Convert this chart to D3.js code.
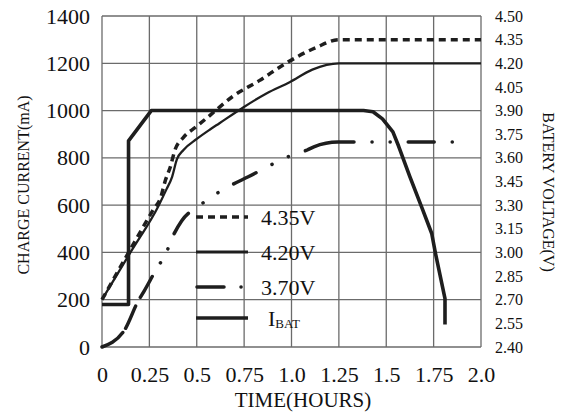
<!DOCTYPE html>
<html>
<head>
<meta charset="utf-8">
<script src="https://cdn.jsdelivr.net/npm/d3@7"></script>
<style>
  html, body { margin: 0; padding: 0; background: #fff; }
  svg, svg text { font-family: "Liberation Serif", "Times New Roman", serif !important; }
  svg { display: block; }
</style>
</head>
<body>
<svg id="chart" width="571" height="416"></svg>
<script>
// ---- data ----
const timeTicks = [0, 0.25, 0.5, 0.75, 1.0, 1.25, 1.5, 1.75, 2.0];
const timeTickLabels = ["0", "0.25", "0.5", "0.75", "1.0", "1.25", "1.5", "1.75", "2.0"];
const currentTicks = [0, 200, 400, 600, 800, 1000, 1200, 1400];
const voltageTicks = [2.40, 2.55, 2.70, 2.85, 3.00, 3.15, 3.30, 3.45, 3.60, 3.75, 3.90, 4.05, 4.20, 4.35, 4.50];

// 4.35V battery voltage (V) vs time (h)
const t435 = [0, 0.15, 0.27, 0.31, 0.335, 0.36, 0.385, 0.43, 0.5, 0.57, 0.69, 0.83, 0.97, 1.13, 1.25, 2.0];
const v435 = [2.70, 3.02, 3.27, 3.35, 3.46, 3.54, 3.65, 3.73, 3.80, 3.87, 3.99, 4.09, 4.20, 4.30, 4.35, 4.35];

// 4.20V battery voltage (V)
const t420 = [0, 0.15, 0.30, 0.34, 0.37, 0.395, 0.43, 0.50, 0.57, 0.62, 0.745, 0.87, 0.99, 1.11, 1.25, 2.0];
const v420 = [2.70, 3.00, 3.30, 3.40, 3.48, 3.59, 3.65, 3.72, 3.78, 3.82, 3.92, 4.01, 4.08, 4.16, 4.20, 4.20];

// 3.70V battery voltage (V)
const t370 = [0, 0.12, 0.19, 0.22, 0.29, 0.336, 0.373, 0.42, 0.517, 0.60, 0.687, 0.772, 0.90, 0.988, 1.083, 1.118, 1.245, 1.5, 1.93];
const v370 = [2.40, 2.51, 2.69, 2.75, 2.90, 2.99, 3.10, 3.20, 3.30, 3.37, 3.43, 3.48, 3.56, 3.61, 3.65, 3.67, 3.70, 3.70, 3.70];

// Charge current IBAT (mA)
const tBat = [0, 0.14, 0.14, 0.26, 1.38, 1.43, 1.48, 1.535, 1.565, 1.625, 1.69, 1.74, 1.76, 1.81, 1.81];
const iBat = [180, 180, 872, 1000, 1000, 995, 965, 910, 850, 720, 585, 480, 395, 205, 95];

const legendLabels = ["4.35V", "4.20V", "3.70V", "I"];

// ---- layout ----
const svg = d3.select("#chart");
const m = { left: 102, top: 16, right: 90, bottom: 69 };
const W = 571 - m.left - m.right;   // 379
const H = 416 - m.top - m.bottom;   // 331
const g = svg.append("g").attr("transform", `translate(${m.left},${m.top})`);

const x = d3.scaleLinear().domain([0, 2]).range([0, W]);
const yI = d3.scaleLinear().domain([0, 1400]).range([H, 0]);
const yV = d3.scaleLinear().domain([2.4, 4.5]).range([H, 0]);

const gridColor = "#6b6b6b";
const ink = "#1e1e1e";
const serif = "Liberation Serif";

// grid
g.append("g").selectAll("line").data(timeTicks).join("line")
  .attr("x1", d => x(d)).attr("x2", d => x(d)).attr("y1", 0).attr("y2", H)
  .attr("stroke", gridColor).attr("stroke-width", 1.3);
g.append("g").selectAll("line").data(currentTicks).join("line")
  .attr("y1", d => yI(d)).attr("y2", d => yI(d)).attr("x1", 0).attr("x2", W)
  .attr("stroke", gridColor).attr("stroke-width", 1.3);

// axes
const axL = g.append("g").call(d3.axisLeft(yI).tickValues(currentTicks).tickSize(0).tickPadding(12).tickFormat(d3.format("d")));
axL.attr("font-family", serif);
axL.select(".domain").remove();
axL.selectAll("text").attr("font-size", 22).attr("fill", "#111");

const axB = g.append("g").attr("transform", `translate(0,${H})`)
  .call(d3.axisBottom(x).tickValues(timeTicks).tickSize(0).tickPadding(19).tickFormat((d, i) => timeTickLabels[i]));
axB.attr("font-family", serif);
axB.select(".domain").remove();
axB.selectAll("text").attr("font-size", 22).attr("fill", "#111");

const axR = g.append("g").attr("transform", `translate(${W},0)`)
  .call(d3.axisRight(yV).tickValues(voltageTicks).tickSize(0).tickPadding(14).tickFormat(d3.format(".2f")));
axR.attr("font-family", serif);
axR.select(".domain").remove();
axR.selectAll("text").attr("font-size", 16).attr("fill", "#111");

// axis titles
svg.append("text").attr("transform", "translate(29,185) rotate(-90)")
  .attr("text-anchor", "middle").attr("font-size", 16).attr("fill", "#111").text("CHARGE CURRENT(mA)");
svg.append("text").attr("transform", "translate(543,192) rotate(90)")
  .attr("text-anchor", "middle").attr("font-size", 16).attr("fill", "#111").text("BATERY VOLTAGE(V)");
svg.append("text").attr("x", 303).attr("y", 407)
  .attr("text-anchor", "middle").attr("font-size", 21).attr("fill", "#111").text("TIME(HOURS)");

// lines
const lineV = d3.line().x(d => x(d[0])).y(d => yV(d[1])).curve(d3.curveMonotoneX);
const lineI = d3.line().x(d => x(d[0])).y(d => yI(d[1])).curve(d3.curveLinear);

g.append("path").datum(d3.zip(t370, v370)).attr("d", lineV)
  .attr("fill", "none").attr("stroke", ink).attr("stroke-width", 3.5)
  .attr("stroke-linecap", "round")
  .attr("stroke-dasharray", "26,5,24,10,24,16,0.1,16,0.1,16,25,18,0.1,18,0.1,18,25,18,0.1,18,0.1,18,50,18,0.1,18,0.1,18,26,18,0.1,18,0.1,18");

g.append("path").datum(d3.zip(t420, v420)).attr("d", lineV)
  .attr("fill", "none").attr("stroke", ink).attr("stroke-width", 2.3);

g.append("path").datum(d3.zip(t435, v435)).attr("d", lineV)
  .attr("fill", "none").attr("stroke", ink).attr("stroke-width", 3.5)
  .attr("stroke-dasharray", "7,5");

g.append("path").datum(d3.zip(tBat, iBat)).attr("d", lineI)
  .attr("fill", "none").attr("stroke", ink).attr("stroke-width", 3.6)
  .attr("stroke-linejoin", "round");

// legend
const legY = [217, 252, 287, 318];
const leg = svg.append("g").attr("font-family", serif);
const styles = [
  { w: 3.5, dash: "7,5", cap: "butt" },
  { w: 3.2, dash: null, cap: "butt" },
  { w: 3.5, dash: "27,17,0.1,20", cap: "round" },
  { w: 3.6, dash: null, cap: "butt" }
];
legendLabels.forEach((lab, i) => {
  const s = styles[i];
  leg.append("line").attr("x1", i === 2 ? 197 : 196).attr("x2", i === 2 ? 243 : 248)
    .attr("y1", legY[i]).attr("y2", legY[i])
    .attr("stroke", ink).attr("stroke-width", s.w)
    .attr("stroke-linecap", s.cap)
    .attr("stroke-dasharray", s.dash);
  const tx = leg.append("text").attr("x", i === 3 ? 268 : 261).attr("y", legY[i] + 8)
    .attr("font-size", 22).attr("fill", "#111").text(lab);
  if (i === 3) {
    tx.append("tspan").attr("font-size", 13).attr("dy", 2).text("BAT");
  }
});
</script>
</body>
</html>
